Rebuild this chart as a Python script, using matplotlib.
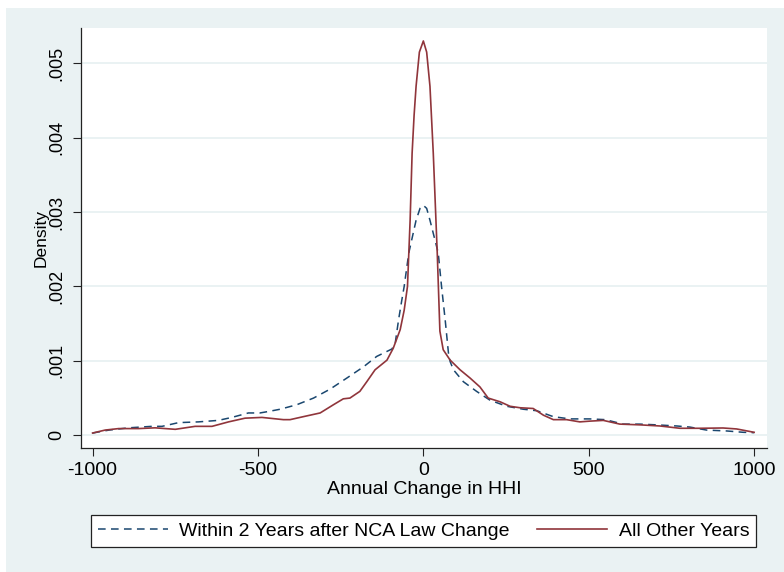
import numpy as np
import matplotlib.pyplot as plt
import matplotlib.patches

plt.rcParams['font.family'] = ['Liberation Sans', 'DejaVu Sans']

# density estimates (density in units of 0.001)
x_other = [-1000, -962, -921, -861, -811, -750, -690, -639, -589, -539, -488, -423, -403,
           -363, -312, -272, -242, -222, -192, -171, -146, -110, -91, -70, -58, -48, -40,
           -34, -28, -22, -12, 0, 10, 20, 30, 42, 50, 60, 81, 111, 141, 171, 196, 232,
           262, 292, 332, 363, 393, 433, 473, 503, 544, 594, 655, 715, 776, 836, 906,
           947, 1000]
y_other = [0.03, 0.07, 0.09, 0.09, 0.10, 0.08, 0.12, 0.12, 0.18, 0.23, 0.24, 0.21, 0.21,
           0.25, 0.30, 0.41, 0.49, 0.50, 0.59, 0.72, 0.88, 1.01, 1.17, 1.42, 1.68, 2.00,
           2.89, 3.79, 4.30, 4.69, 5.15, 5.30, 5.15, 4.69, 3.79, 2.45, 1.40, 1.15, 1.01,
           0.88, 0.77, 0.65, 0.50, 0.45, 0.39, 0.37, 0.36, 0.27, 0.21, 0.21, 0.18, 0.19,
           0.20, 0.15, 0.14, 0.125, 0.094, 0.094, 0.098, 0.085, 0.04]

x_nca = [-1000, -950, -891, -821, -790, -740, -680, -620, -579, -529, -494, -468, -433,
         -383, -332, -282, -231, -181, -141, -95, -85, -75, -65, -58, -44, -22, -10, 0,
         10, 20, 45, 55, 66, 76, 81, 91, 121, 161, 202, 252, 302, 343, 393, 443, 503,
         550, 604, 655, 705, 766, 806, 856, 917, 967, 1000]
y_nca = [0.03, 0.07, 0.10, 0.12, 0.12, 0.17, 0.18, 0.20, 0.24, 0.30, 0.30, 0.32, 0.35,
         0.41, 0.50, 0.62, 0.77, 0.92, 1.06, 1.16, 1.24, 1.55, 1.82, 2.00, 2.45, 2.89,
         3.05, 3.09, 3.05, 2.89, 2.45, 2.00, 1.55, 1.10, 0.99, 0.88, 0.72, 0.59, 0.47,
         0.39, 0.35, 0.33, 0.25, 0.22, 0.22, 0.21, 0.15, 0.15, 0.14, 0.125, 0.11, 0.07,
         0.058, 0.04, 0.035]

labels = ['Within 2 Years after NCA Law Change', 'All Other Years']
xticks = [-1000, -500, 0, 500, 1000]
yticks = [0, 0.001, 0.002, 0.003, 0.004, 0.005]
ytick_labels = ['0', '.001', '.002', '.003', '.004', '.005']

bg = '#EAF2F3'
navy = '#1A476F'
maroon = '#90353B'

fig = plt.figure(figsize=(7.84, 5.72), dpi=100)
fig.patch.set_facecolor('white')
# stata-style light background, with thin white strip on top/left
rect = matplotlib.patches.Rectangle((6/784, 0), 1, (572-8)/572, transform=fig.transFigure,
                                    facecolor=bg, edgecolor='none', zorder=-10)
fig.patches.append(rect)

ax = fig.add_axes([81/784, 1-447.7/572, (766.7-81)/784, (447.7-28.3)/572])
ax.set_facecolor('white')

l1, = ax.plot(x_nca, np.array(y_nca)/1000, color=navy, lw=1.1, linestyle=(0, (5, 3.5)))
l2, = ax.plot(x_other, np.array(y_other)/1000, color=maroon, lw=1.2)

ax.set_xlim(-1035, 1038)
ax.set_ylim(-0.000167, 0.00547)
ax.set_xticks(xticks)
ax.set_xticklabels([str(t) for t in xticks])
ax.set_yticks(yticks)
ax.set_yticklabels(ytick_labels, rotation=90, va='center')

ax.grid(axis='y', color=bg, lw=1.4)
ax.set_axisbelow(True)
for s in ['top', 'right']:
    ax.spines[s].set_visible(False)
for s in ['left', 'bottom']:
    ax.spines[s].set_color('#222222')
    ax.spines[s].set_linewidth(0.9)

ax.tick_params(axis='x', length=6, width=0.8, color='#222222', labelsize=14, pad=4)
ax.tick_params(axis='y', length=6, width=0.8, color='#222222', labelsize=13, pad=5)

ax.set_xlabel('Annual Change in HHI', fontsize=14, labelpad=2)
ax.set_ylabel('Density', fontsize=12.5, labelpad=0)

leg = fig.legend([l1, l2], labels, loc='center', bbox_to_anchor=(0.540, 0.0717),
                 ncol=2, fontsize=14, frameon=True, fancybox=False, handlelength=3.6,
                 handletextpad=0.6, columnspacing=1.4, borderpad=0.35, borderaxespad=0,
                 framealpha=1)
leg.get_frame().set_edgecolor('#222222')
leg.get_frame().set_linewidth(0.9)
leg.get_frame().set_facecolor('white')

plt.savefig('out.png', dpi=100, facecolor=fig.get_facecolor())
plt.close()
